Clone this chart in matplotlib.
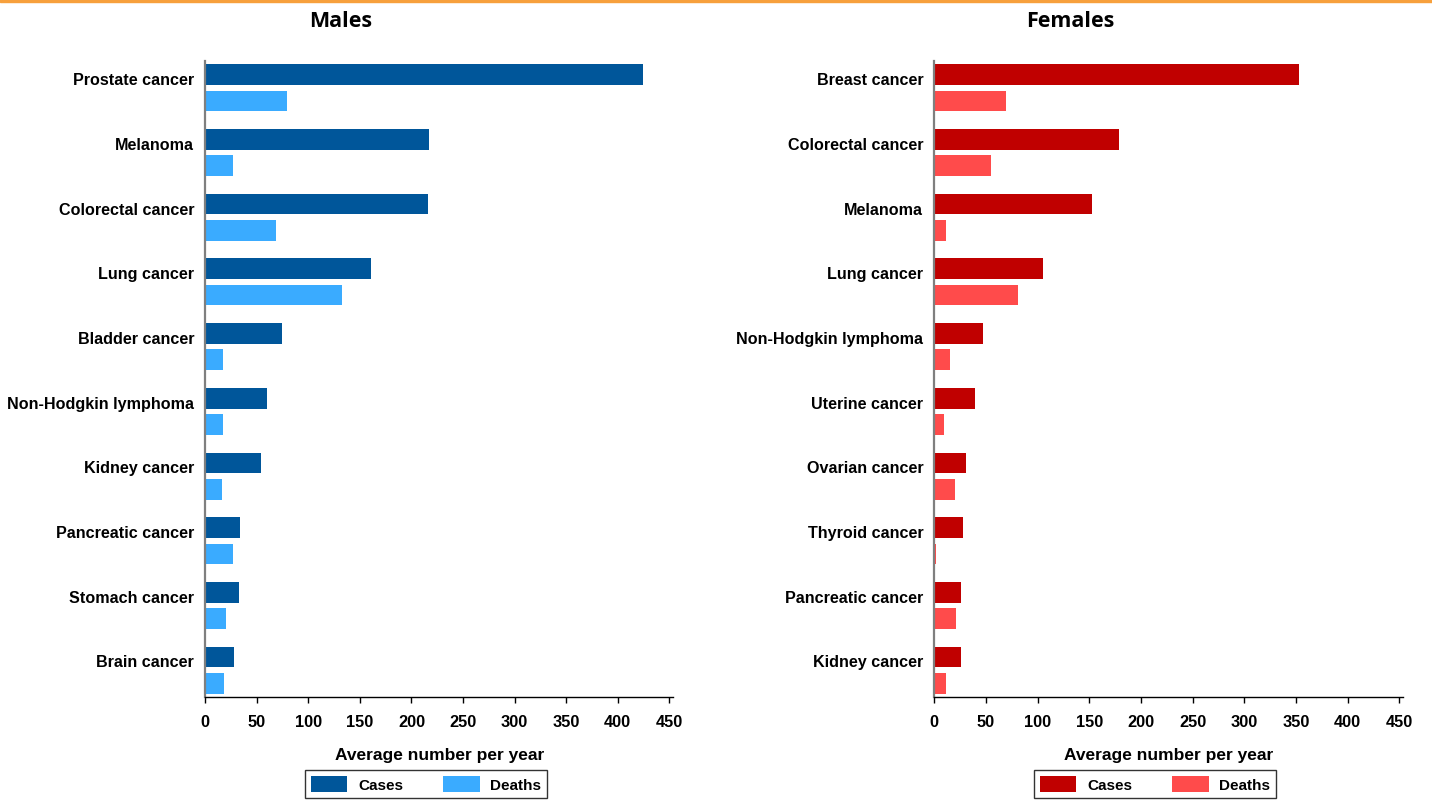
import matplotlib
matplotlib.use("Agg")
import matplotlib.pyplot as plt
from matplotlib.patches import Rectangle, Patch
import numpy as np

# ---------------- data ----------------
male_categories = ["Prostate cancer", "Melanoma", "Colorectal cancer", "Lung cancer",
                   "Bladder cancer", "Non-Hodgkin lymphoma", "Kidney cancer",
                   "Pancreatic cancer", "Stomach cancer", "Brain cancer"]
male_cases = [425, 217, 216, 161, 74, 60, 54, 34, 33, 28]
male_deaths = [79, 27, 69, 133, 17, 17, 16, 27, 20, 18]

female_categories = ["Breast cancer", "Colorectal cancer", "Melanoma", "Lung cancer",
                     "Non-Hodgkin lymphoma", "Uterine cancer", "Ovarian cancer",
                     "Thyroid cancer", "Pancreatic cancer", "Kidney cancer"]
female_cases = [353, 179, 153, 105, 47, 39, 31, 28, 26, 26]
female_deaths = [69, 55, 11, 81, 15, 9, 20, 2, 21, 11]

x_ticks = [0, 50, 100, 150, 200, 250, 300, 350, 400, 450]
series_labels = ["Cases", "Deaths"]
panel_titles = ["Males", "Females"]
x_label = "Average number per year"

# ---------------- styling ----------------
plt.rcParams['font.family'] = ['Liberation Sans', 'DejaVu Sans']
W, H = 1432, 804
fig = plt.figure(figsize=(W / 100, H / 100), dpi=100)

def fx(px):
    return px / W

def fy(py):
    return 1 - py / H

# orange top rule
fig.patches.append(Rectangle((0, fy(3)), 1, 3 / H, transform=fig.transFigure,
                             color="#F7A03C", zorder=0))

panels = [
    dict(cats=male_categories, cases=male_cases, deaths=male_deaths,
         colors=("#00569A", "#3AABFF"), left=205.3, right=673.3,
         title=panel_titles[0], title_x=340.5, leg_x=426),
    dict(cats=female_categories, cases=female_cases, deaths=female_deaths,
         colors=("#C00000", "#FF4B4B"), left=934.3, right=1403.3,
         title=panel_titles[1], title_x=1070, leg_x=1155),
]

top_px, bot_px = 62, 698
for p in panels:
    ax = fig.add_axes([fx(p["left"]), fy(bot_px), (p["right"] - p["left"]) / W,
                       (bot_px - top_px) / H])
    y = np.arange(len(p["cats"]))
    ax.barh(y - 0.203, p["cases"], height=0.32, color=p["colors"][0], zorder=2)
    ax.barh(y + 0.203, p["deaths"], height=0.32, color=p["colors"][1], zorder=2)
    ax.set_ylim(len(p["cats"]) - 1 + 0.415, -0.415)
    ax.set_xlim(0, 454)
    ax.set_xticks(x_ticks)
    ax.set_xticklabels([str(t) for t in x_ticks], fontsize=11.8, fontweight="bold")
    ax.set_yticks(y - 0.15)
    ax.set_yticklabels(p["cats"], fontsize=11.6, fontweight="bold")
    ax.tick_params(axis="y", length=0, pad=8)
    ax.tick_params(axis="x", length=4, width=1, color="black", pad=8,
                   direction="out")
    for s in ("top", "right"):
        ax.spines[s].set_visible(False)
    ax.spines["left"].set_color("#7F7F7F")
    ax.spines["left"].set_linewidth(1.6)
    ax.spines["bottom"].set_color("black")
    ax.spines["bottom"].set_linewidth(1.0)
    ax.set_facecolor("white")

    cx = (p["left"] + p["right"]) / 2
    fig.text(fx(cx), fy(760), x_label, ha="center", va="baseline",
             fontsize=12.5, fontweight="bold")
    fig.text(fx(p["title_x"]), fy(27.3), p["title"], ha="center", va="baseline",
             fontsize=15.5, fontweight="bold", family=["Open Sans", "DejaVu Sans"])

    handles = [Patch(facecolor=p["colors"][0], edgecolor="none"),
               Patch(facecolor=p["colors"][1], edgecolor="none")]
    leg = fig.legend(handles, series_labels, loc="center",
                     bbox_to_anchor=(fx(p["leg_x"]), fy(785)),
                     ncol=2, frameon=True, fancybox=False, shadow=False,
                     prop=dict(size=11, weight="bold"),
                     handlelength=2.4, handleheight=1.3,
                     handletextpad=0.7, columnspacing=2.6, borderpad=0.4,
                     borderaxespad=0)
    fr = leg.get_frame()
    fr.set_edgecolor("black")
    fr.set_linewidth(1.0)

fig.savefig("out.png", dpi=100, facecolor="white")
